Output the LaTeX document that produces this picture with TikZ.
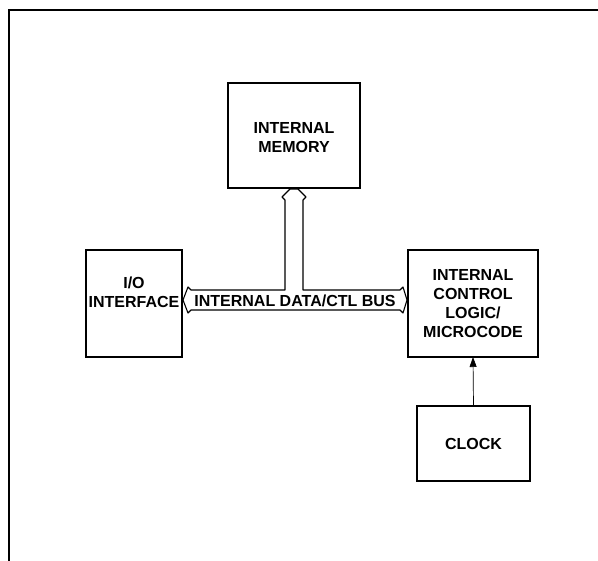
\documentclass[tikz,border=0pt]{standalone}
\usepackage{fontspec}
\setmainfont{Liberation Sans}
\usetikzlibrary{calc,arrows.meta}
\begin{document}
\begin{tikzpicture}[x=1pt,y=-1pt,
  lbl/.style={font=\fontsize{16}{19}\selectfont\bfseries,align=center,inner sep=0pt},
  blk/.style={draw,line width=1.2pt,inner sep=0pt,outer sep=0pt,anchor=north west},
  busline/.style={line width=1.1pt,line join=round},
  ]
\useasboundingbox (0,0) rectangle (598,561);
\draw[line width=1.6pt] (598,10) -- (9,10) -- (9,561);
\node[blk,minimum width=132pt,minimum height=105pt] (mem) at (228,83) {};
\node[lbl] (memt) at ($(mem.center)+(0,2)$) {INTERNAL\\MEMORY};
\node[blk,minimum width=96pt,minimum height=107pt] (io) at (86,250) {};
\node[lbl] (iot) at ($(io.center)+(0,-11)$) {I/O\\INTERFACE};
\node[blk,minimum width=130pt,minimum height=107pt] (ctl) at (408,250) {};
\node[lbl] (ctlt) at (ctl.center) {INTERNAL\\CONTROL\\LOGIC/\\MICROCODE};
\node[blk,minimum width=113pt,minimum height=75pt] (clk) at (417,406) {};
\node[lbl] (clkt) at (clk.center) {CLOCK};
\coordinate (L) at ($(io.east |- 0,300)+(1,0)$);
\coordinate (R) at ($(ctl.west |- 0,300)+(-1,0)$);
\coordinate (T) at ($(mem.south)+(0,1)$);
\draw[busline] (L) -- ++(5,-13) -- ++(3,3) -- ($(T)+(-9,101)$) -- ($(T)+(-9,11)$)
  -- ++(-3,-3) -- ($(T)+(-4,0)$) -- ($(T)+(4,0)$) -- ($(T)+(12,8)$) -- ($(T)+(9,11)$)
  -- ($(T)+(9,101)$) -- ($(R)+(-7,-10)$) -- ++(3,-3) -- (R) -- ++(-4,13) -- ++(-3,-3)
  -- ($(L)+(8,10)$) -- ++(-3,3) -- cycle;
\node[lbl] (bus) at (295,301) {INTERNAL DATA/CTL BUS};
\draw[line width=0.7pt,-{Triangle[length=10pt,width=7pt]}] (clk.north) -- (ctl.south);
\end{tikzpicture}
\end{document}
